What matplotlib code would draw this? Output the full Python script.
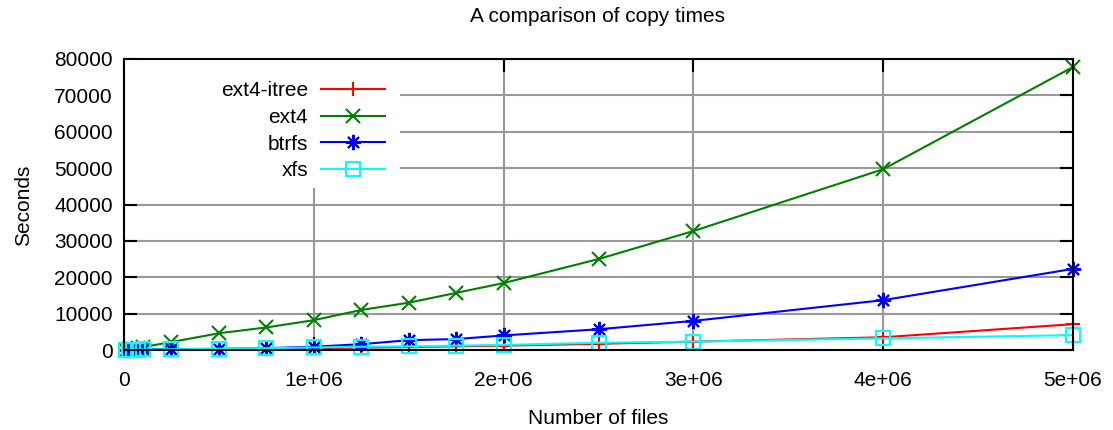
import numpy as np
import matplotlib
matplotlib.use("Agg")
from matplotlib import pyplot as plt
from matplotlib.patches import Rectangle
from matplotlib.ticker import FuncFormatter, MultipleLocator

# data
files = [10000, 25000, 50000, 75000, 100000, 250000, 500000, 750000, 1000000,
         1250000, 1500000, 1750000, 2000000, 2500000, 3000000, 4000000, 5000000]
ext4_itree = [20, 40, 80, 100, 130, 150, 250, 350, 500, 650, 800, 1000, 1200,
              1700, 2300, 3500, 7100]
ext4 = [80, 200, 400, 600, 800, 2200, 4600, 6200, 8200, 11000, 13000, 15700,
        18400, 25000, 32700, 49700, 77800]
btrfs = [30, 60, 120, 160, 200, 250, 300, 500, 900, 1600, 2700, 3000, 4000,
         5700, 8000, 13700, 22300]
xfs = [30, 60, 100, 130, 160, 200, 350, 500, 700, 900, 1000, 1200, 1400,
       2000, 2300, 3200, 4100]

plt.rcParams['font.family'] = ['Liberation Sans', 'DejaVu Sans']
fs = 15

fig = plt.figure(figsize=(11.13, 4.30), dpi=100)
ax = fig.add_axes([124 / 1113, 1 - 350 / 430, 949 / 1113, 291 / 430])

# grid first so everything sits on top
ax.set_axisbelow(True)
ax.grid(True, color='#999999', linewidth=1.5)

lw = 1.5
ax.plot(files, ext4_itree, color='#ff0000', lw=lw, marker='+', ms=10, mew=1.5,
        label='ext4-itree', clip_on=False)
ax.plot(files, ext4, color='#008000', lw=lw, marker='x', ms=10, mew=1.5,
        label='ext4', clip_on=False)
ax.plot(files, btrfs, color='#0000ff', lw=lw, marker=(8, 2, 0), ms=11, mew=1.5,
        label='btrfs', clip_on=False)
ax.plot(files, xfs, color='#00ffff', lw=lw, marker='s', ms=10, mew=1.5,
        mfc='none', label='xfs', clip_on=False)

ax.set_xlim(0, 5e6)
ax.set_ylim(0, 80000)
ax.xaxis.set_major_locator(MultipleLocator(1e6))
ax.yaxis.set_major_locator(MultipleLocator(10000))
ax.xaxis.set_major_formatter(FuncFormatter(lambda v, p: '%g' % v))
ax.yaxis.set_major_formatter(FuncFormatter(lambda v, p: '%d' % v))

ax.tick_params(direction='in', length=9.5, width=1.5, top=True, right=True,
               labelsize=fs)
ax.tick_params(axis='x', pad=15)
ax.tick_params(axis='y', pad=8)
for s in ax.spines.values():
    s.set_linewidth(1.5)

# white patch behind the key, hides the grid like gnuplot does
ax.add_patch(Rectangle((0, 0.557), 0.291, 0.443, transform=ax.transAxes,
                       facecolor='white', edgecolor='none', zorder=0.8))

leg = ax.legend(loc='upper right', bbox_to_anchor=(0.284, 1 - 14 / 291),
                borderaxespad=0, markerfirst=False, fontsize=fs,
                handlelength=3.1, handletextpad=0.6, labelspacing=0.37,
                borderpad=0.4, frameon=False)
leg.set_zorder(2.4)  # keep the top ticks visible over the key

fig.text(598 / 1113, 1 - 17 / 430, 'A comparison of copy times', ha='center',
         va='center', fontsize=fs)
fig.text(598 / 1113, 1 - 418 / 430, 'Number of files', ha='center',
         va='center', fontsize=fs)
fig.text(24 / 1113, 1 - 205 / 430, 'Seconds', ha='center', va='center',
         rotation=90, fontsize=fs)

fig.savefig('out.png', dpi=100)
